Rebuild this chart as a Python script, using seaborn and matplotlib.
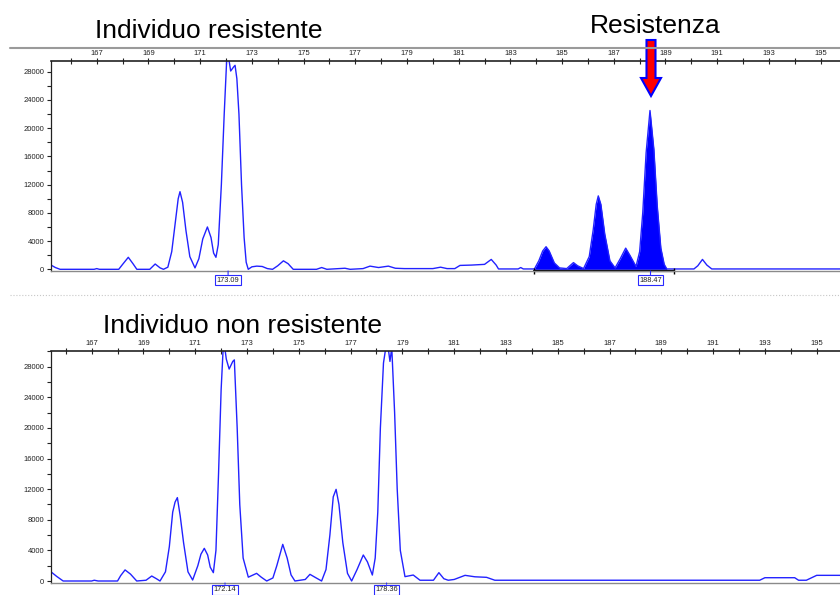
import matplotlib
matplotlib.use("Agg")
import matplotlib.pyplot as plt
from matplotlib.lines import Line2D
from matplotlib.patches import FancyArrow
from matplotlib.ticker import MultipleLocator
import numpy as np
import pandas as pd
import seaborn as sns

# trace of the resistant individual (size in bp, signal in RFU)
top_size = [165.23, 165.40, 165.58, 166.90, 167.00, 167.10, 167.85, 168.00, 168.22, 168.40,
            168.55, 169.05, 169.26, 169.45, 169.58, 169.75, 169.90, 170.05, 170.15, 170.22,
            170.32, 170.45, 170.60, 170.80, 170.95, 171.10, 171.28, 171.42, 171.52, 171.61,
            171.70, 171.82, 171.93, 172.03, 172.10, 172.18, 172.30, 172.35, 172.42, 172.50,
            172.60, 172.70, 172.78, 172.86, 173.00, 173.19, 173.40, 173.60, 173.80, 174.00,
            174.22, 174.40, 174.60, 175.50, 175.70, 175.90, 176.60, 176.80, 177.30, 177.57,
            177.90, 178.28, 178.55, 178.90, 180.00, 180.30, 180.55, 180.85, 181.05, 181.50,
            182.00, 182.26, 182.45, 182.54, 183.30, 183.40, 183.50, 183.93, 184.10, 184.25,
            184.38, 184.50, 184.70, 184.90, 185.18, 185.30, 185.44, 185.60, 185.83, 186.05,
            186.20, 186.32, 186.40, 186.50, 186.65, 186.85, 187.05, 187.25, 187.46, 187.62,
            187.86, 188.00, 188.12, 188.25, 188.40, 188.55, 188.68, 188.82, 188.95, 189.05,
            190.10, 190.25, 190.43, 190.60, 190.79, 195.75]
top_rfu = [600, 250, 0, 0, 100, 0, 0, 700, 1700, 800,
           0, 0, 750, 200, 0, 300, 2500, 7000, 10000, 11000,
           9500, 5500, 1800, 200, 1500, 4300, 6000, 4500, 2300, 1700,
           3500, 12000, 22000, 30000, 30000, 28100, 28700, 28900, 27000, 22000,
           12000, 4500, 1000, 0, 350, 450, 400, 100, 0, 500,
           1200, 800, 0, 0, 250, 0, 150, 0, 100, 450,
           250, 450, 150, 100, 100, 300, 100, 100, 550, 600,
           700, 1400, 600, 50, 50, 250, 50, 50, 1200, 2600,
           3200, 2600, 900, 200, 100, 500, 950, 500, 100, 1800,
           5500, 9200, 10400, 9200, 5000, 1200, 200, 1500, 3000, 2000,
           400, 2500, 8000, 16500, 22500, 17000, 9000, 3000, 700, 50,
           50, 500, 1400, 600, 50, 50]

# trace of the non resistant individual
bot_size = [165.43, 165.65, 165.90, 167.00, 167.10, 167.25, 168.00, 168.12, 168.29, 168.50,
            168.74, 169.10, 169.32, 169.50, 169.64, 169.85, 170.00, 170.13, 170.22, 170.31,
            170.42, 170.55, 170.72, 170.90, 171.10, 171.22, 171.35, 171.48, 171.58, 171.70,
            171.80, 171.90, 172.00, 172.08, 172.14, 172.20, 172.31, 172.45, 172.51, 172.62,
            172.72, 172.85, 173.05, 173.37, 173.55, 173.76, 174.00, 174.15, 174.38, 174.55,
            174.70, 174.85, 175.25, 175.43, 175.62, 175.88, 176.05, 176.20, 176.33, 176.44,
            176.55, 176.70, 176.88, 177.04, 177.25, 177.49, 177.65, 177.84, 177.95, 178.05,
            178.15, 178.27, 178.36, 178.45, 178.52, 178.59, 178.70, 178.80, 178.92, 179.10,
            179.42, 179.68, 180.20, 180.41, 180.60, 180.77, 181.00, 181.42, 181.80, 182.25,
            182.57, 192.80, 193.00, 194.15, 194.30, 194.60, 195.00, 195.90]
bot_rfu = [1200, 600, 0, 0, 100, 0, 0, 700, 1450, 900,
           0, 100, 650, 300, 0, 1200, 4500, 9000, 10300, 10900,
           8500, 5000, 1200, 130, 2000, 3500, 4270, 3400, 1800, 1090,
           4000, 14000, 25000, 30500, 30500, 29000, 27700, 28700, 28900, 20000,
           10000, 3000, 500, 1000, 500, 0, 400, 2000, 4790, 3000,
           800, 0, 200, 870, 500, 0, 1500, 6000, 11000, 11980,
           10000, 5000, 1000, 0, 1500, 3400, 2500, 780, 3000, 9000,
           20000, 28500, 30500, 30500, 28700, 30500, 22000, 12000, 4000, 570,
           780, 100, 100, 1090, 300, 100, 200, 740, 550, 480,
           100, 100, 430, 430, 100, 100, 740, 740]

top_title = "Individuo resistente"
bot_title = "Individuo non resistente"
arrow_text = "Resistenza"
top_peaks = [172.08, 188.42]
top_peak_labels = ["173.09", "188.47"]
bot_peaks = [172.15, 178.39]
bot_peak_labels = ["172.14", "178.36"]
fill_range = [183.93, 189.34]

major_x = list(range(167, 197, 2))
major_y = list(range(0, 28001, 4000))

W, H = 840, 595
sns.set_style("white")
plt.rcParams["font.family"] = ["Liberation Sans", "DejaVu Sans"]
plt.rcParams["text.color"] = "black"

fig = plt.figure(figsize=(W / 100, H / 100), dpi=100)
ax1 = fig.add_axes([51 / W, 1 - 271 / H, 1 - 51 / W, 210 / H])
ax2 = fig.add_axes([51 / W, 1 - 583 / H, 1 - 51 / W, 232 / H])

df_top = pd.DataFrame({"size": top_size, "rfu": top_rfu})
df_bot = pd.DataFrame({"size": bot_size, "rfu": bot_rfu})

trace_col = "#2222ff"
sns.lineplot(data=df_top, x="size", y="rfu", ax=ax1, color=trace_col, linewidth=1.0)
sns.lineplot(data=df_bot, x="size", y="rfu", ax=ax2, color=trace_col, linewidth=1.0)

xs = np.array(top_size)
ys = np.array(top_rfu)
mask = (xs >= fill_range[0]) & (xs <= fill_range[1])
ax1.fill_between(xs, ys, where=mask, color="#0000ff", linewidth=0)

ax1.set_xlim(165.23, 195.75)
ax1.set_ylim(-240, 29516)
ax2.set_xlim(165.43, 195.90)
ax2.set_ylim(-261, 30061)

for ax in (ax1, ax2):
    ax.set_xlabel("")
    ax.set_ylabel("")
    ax.xaxis.tick_top()
    ax.set_xticks(major_x)
    ax.set_xticklabels([str(v) for v in major_x])
    ax.xaxis.set_minor_locator(MultipleLocator(2))
    ax.set_yticks(major_y)
    ax.set_yticklabels([str(v) for v in major_y])
    ax.yaxis.set_minor_locator(MultipleLocator(2000))
    ax.tick_params(axis="x", which="both", direction="inout", length=4, width=0.8,
                   top=True, bottom=False, labeltop=True, labelbottom=False,
                   labelsize=5.5, pad=1, colors="#222222")
    ax.tick_params(axis="y", which="both", direction="out", length=3, width=0.8,
                   left=True, labelsize=5.5, pad=2, colors="#222222")
    ax.spines["right"].set_visible(False)
    ax.spines["top"].set_color("#222222")
    ax.spines["top"].set_linewidth(1.2)
    ax.spines["left"].set_color("#222222")
    ax.spines["left"].set_linewidth(0.9)
    ax.spines["bottom"].set_color("#8a8a8a")
    ax.spines["bottom"].set_linewidth(1.0)
    ax.set_facecolor("white")

# black base segment under the filled area
ax1.plot(fill_range, [-240, -240], color="black", linewidth=1.6, clip_on=False,
         marker="|", markersize=4)

# boxed size labels below the peaks
for ax, pos, labs, off in ((ax1, top_peaks, top_peak_labels, -6.5),
                           (ax2, bot_peaks, bot_peak_labels, -4.8)):
    y0 = ax.get_ylim()[0]
    for p, lab in zip(pos, labs):
        ax.annotate(lab, xy=(p, y0), xytext=(0, off), textcoords="offset points",
                    ha="center", va="center", fontsize=5.3, color="#222222",
                    annotation_clip=False,
                    bbox=dict(boxstyle="square,pad=0.2", fc="white", ec="#2a2aff", lw=0.8),
                    arrowprops=dict(arrowstyle="-", color="#2a2aff", lw=0.8,
                                    shrinkA=0, shrinkB=0))

# separators
fig.add_artist(Line2D([10 / W, 1], [1 - 47.7 / H] * 2, color="#9a9a9a", linewidth=1.5))
fig.add_artist(Line2D([10 / W, 1], [1 - 294.5 / H] * 2, color="#c8c8c8", linewidth=0.8,
                      linestyle=":"))

fig.text(95 / W, 1 - 38.3 / H, top_title, ha="left", va="baseline", fontsize=19, color="black")
fig.text(103 / W, 1 - 333.3 / H, bot_title, ha="left", va="baseline", fontsize=19, color="black")
fig.text(590 / W, 1 - 33.3 / H, arrow_text, ha="left", va="baseline", fontsize=19, color="black")

arrow = FancyArrow(651 / W, 1 - 40 / H, 0, -56 / H, width=9 / W, head_width=20 / W,
                   head_length=18 / H, length_includes_head=True, fc="red", ec="blue",
                   linewidth=1.5, transform=fig.transFigure)
fig.add_artist(arrow)

fig.savefig("out.png", dpi=100)
